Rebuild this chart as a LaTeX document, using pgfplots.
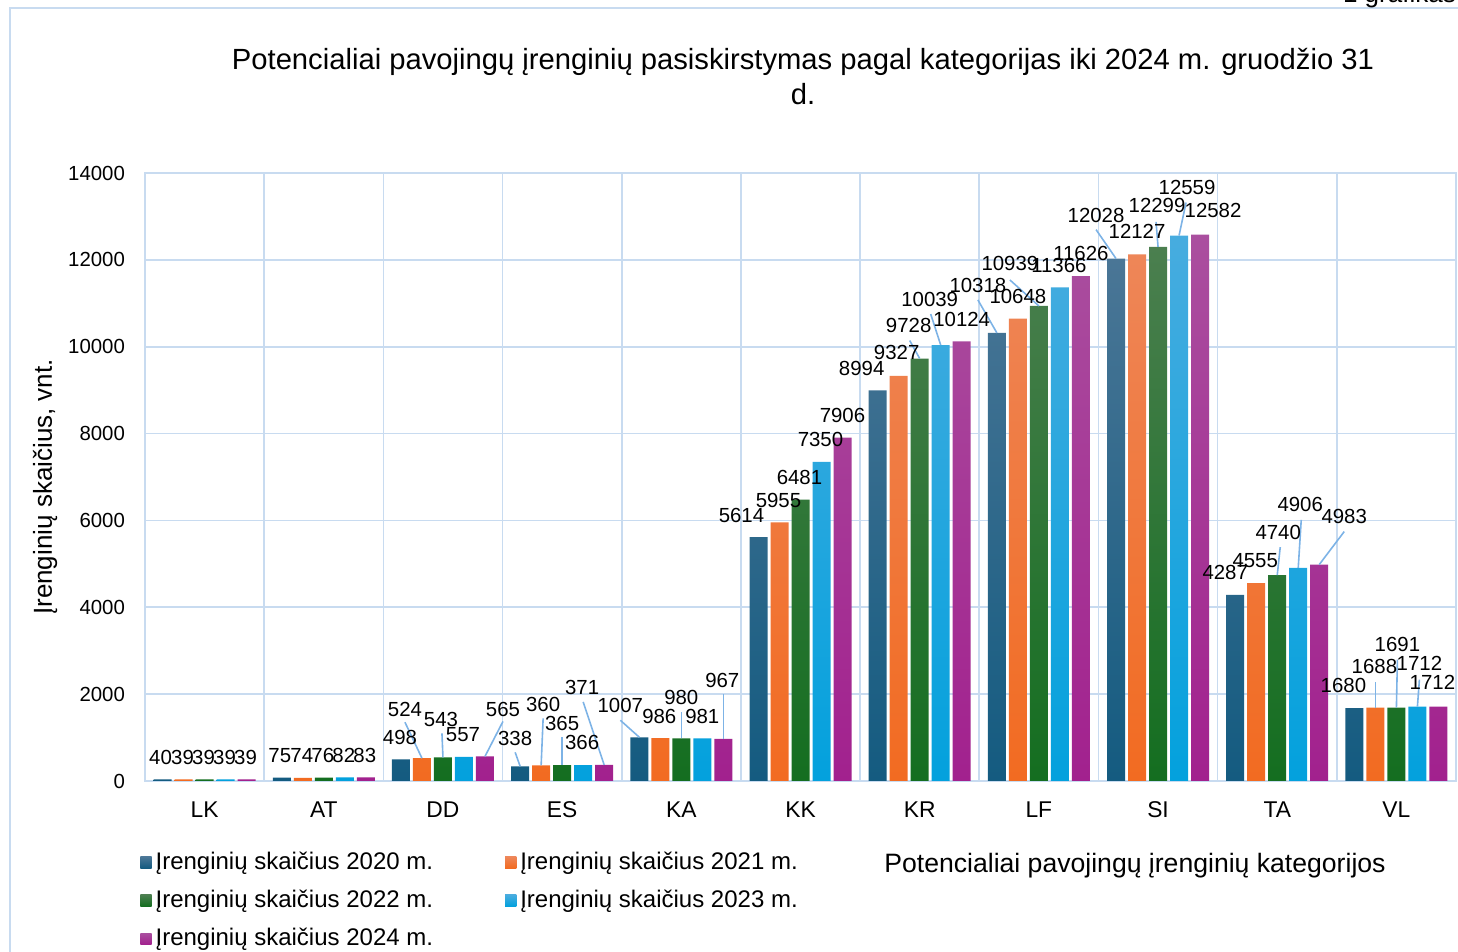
\documentclass[border=0pt]{standalone}
\usepackage{pgfplots}
\pgfplotsset{compat=1.18}
\usepackage{pgfplotstable}
\usepackage{fontspec}
\setmainfont{Liberation Sans}
\definecolor{gridc}{HTML}{C8DBF0}
\definecolor{leadc}{HTML}{7DB3E6}
\definecolor{cAt}{HTML}{4A7696}\definecolor{cAb}{HTML}{145B80}
\definecolor{cBt}{HTML}{EE8658}\definecolor{cBb}{HTML}{F26B21}
\definecolor{cCt}{HTML}{4B7F4F}\definecolor{cCb}{HTML}{146E20}
\definecolor{cDt}{HTML}{47ACDF}\definecolor{cDb}{HTML}{03A1DD}
\definecolor{cEt}{HTML}{AA4F9F}\definecolor{cEb}{HTML}{A2218E}

% x = category index, y = value, dx/dy = label offset in px (dy negative = up)
\pgfplotstableread{
x y dx dy
0 40 -2 -22
1 75 -2 -22
2 498 -1 -22
3 338 -5 -28
4 1007 -19 -32
5 5614 -17 -22
6 8994 -16 -22
7 10318 -19 -47
8 12028 -20 -43
9 4287 -10 -22
10 1680 -11 -23
}\tA
\pgfplotstableread{
x y dx dy
0 39 -1 -22
1 74 -1 -22
2 524 -17 -49
3 360 2 -61
4 986 -1 -22
5 5955 -1 -22
6 9327 -2 -23
7 10648 0 -22
8 12127 0 -23
9 4555 -1 -23
10 1688 -1 -41
}\tB
\pgfplotstableread{
x y dx dy
0 39 -1 -22
1 76 -1 -22
2 543 -2 -38
3 365 0 -42
4 980 0 -41
5 6481 -1 -22
6 9728 -11 -33
7 10939 -29 -42
8 12299 -1 -41
9 4740 1 -43
10 1691 1 -63
}\tC
\pgfplotstableread{
x y dx dy
0 39 -1 -22
1 82 -1 -22
2 557 -1 -22
3 366 -1 -23
4 981 0 -22
5 7350 -1 -22
6 10039 -11 -46
7 11366 -1 -22
8 12559 8 -48
9 4906 2 -63
10 1712 2 -43
}\tD
\pgfplotstableread{
x y dx dy
0 39 -1 -22
1 83 -1 -22
2 565 18 -47
3 371 -22 -77
4 967 -1 -59
5 7906 0 -22
6 10124 0 -22
7 11626 0 -23
8 12582 13 -24
9 4983 25 -48
10 1712 -6 -24
}\tE
% leader lines: category i, bar j, value, end offset in px
\pgfplotstableread{
i j y du dv
2 1 524 -17 -36
2 2 543 -1 -24
2 4 565 18 -35
3 0 338 -5 -14
3 1 360 2 -47
3 2 365 0 -28
3 4 371 -21 -63
4 0 1007 -19 -17
4 2 980 0 -26
4 4 967 0 -45
6 2 9728 -10 -18
6 3 10039 -10 -31
7 0 10318 -19 -33
7 2 10939 -29 -26
8 0 12028 -20 -29
8 2 12299 -2 -25
8 3 12559 7 -33
9 2 4740 3 -28
9 3 4906 3 -48
9 4 4983 25 -33
10 1 1688 0 -26
10 2 1691 1 -48
10 3 1712 2 -27
}\tL

\pgfplotsset{
  mybar/.style={ybar, bar width=9pt, bar shift=#1, draw=none,
    nodes near coords,
    visualization depends on={\thisrow{dx} \as \dx},
    visualization depends on={\thisrow{dy} \as \dy},
    every node near coord/.append style={anchor=center, text=black, fill=none,
      inner sep=0pt, font=\fontsize{10.2}{12}\selectfont,
      xshift={0.5pt*(\dx)+#1}, yshift={-0.5pt*(\dy)}}},
}

\begin{document}
\begin{tikzpicture}
\useasboundingbox (0,0) rectangle (729pt,476pt);
\draw[gridc, line width=0.8pt] (5pt,-2pt) -- (5pt,472pt) -- (731pt,472pt);
\node[anchor=base west, font=\fontsize{13}{15}\selectfont] at (668pt,474.8pt) {1 grafikas};
\node[align=center, font=\fontsize{14.6}{17.5}\selectfont] at (401.5pt,437.5pt)
  {Potencialiai pavojingų įrenginių pasiskirstymas pagal kategorijas iki 2024 m. gruodžio 31\\d.};
\begin{axis}[
  at={(72.5pt,85.5pt)}, anchor=south west,
  scale only axis, width=655.5pt, height=304pt,
  xmin=-0.5, xmax=10.5, ymin=0, ymax=14000,
  xtick={0,...,10},
  xticklabels={LK,AT,DD,ES,KA,KK,KR,LF,SI,TA,VL},
  minor xtick={-0.5,0.5,...,10.5},
  ytick={0,2000,...,14000},
  xminorgrids=true, ymajorgrids=true,
  major grid style={gridc, line width=0.8pt},
  minor grid style={gridc, line width=0.8pt},
  axis line style={gridc, line width=0.8pt},
  tick style={draw=none}, minor tick style={draw=none},
  scaled y ticks=false,
  /pgf/number format/.cd, 1000 sep={}, assume math mode=true, /pgfplots/.cd,
  yticklabel style={font=\fontsize{10.2}{12}\selectfont, xshift=-6.5pt},
  xticklabel style={font=\fontsize{11.4}{13}\selectfont, yshift=-7pt},
  clip=false,
  legend columns=2,
  legend image code/.code={\path[#1] (0pt,-2.8pt) rectangle (5.6pt,2.8pt);},
  legend style={draw=none, fill=none, at={(-0.0038,-0.110)}, anchor=north west,
    font=\fontsize{12}{14}\selectfont, cells={anchor=west}, row sep=4.8pt,
    inner xsep=0pt, inner ysep=0pt,
    /tikz/every even column/.append style={column sep=34pt}},
]
\addplot[mybar=-21pt, top color=cAt, bottom color=cAb] table[x=x,y=y]{\tA};
\addplot[mybar=-10.5pt, top color=cBt, bottom color=cBb] table[x=x,y=y]{\tB};
\addplot[mybar=0pt, top color=cCt, bottom color=cCb] table[x=x,y=y]{\tC};
\addplot[mybar=10.5pt, top color=cDt, bottom color=cDb] table[x=x,y=y]{\tD};
\addplot[mybar=21pt, top color=cEt, bottom color=cEb] table[x=x,y=y]{\tE};
\addplot[leadc, line width=0.8pt, mark=none,
  quiver={u=\thisrow{du}/119.18, v=-\thisrow{dv}*23.026}]
  table[x expr=\thisrow{i}+(\thisrow{j}-2)*0.17620, y=y]{\tL};
\legend{Įrenginių skaičius 2020 m.,Įrenginių skaičius 2021 m.,Įrenginių skaičius 2022 m.,Įrenginių skaičius 2023 m.,Įrenginių skaičius 2024 m.}
\end{axis}
\node[rotate=90, font=\fontsize{13}{15}\selectfont] at (22.5pt,232.5pt) {Įrenginių skaičius, vnt.};
\node[font=\fontsize{13.3}{15}\selectfont] at (567.5pt,43pt) {Potencialiai pavojingų įrenginių kategorijos};
\end{tikzpicture}
\end{document}
